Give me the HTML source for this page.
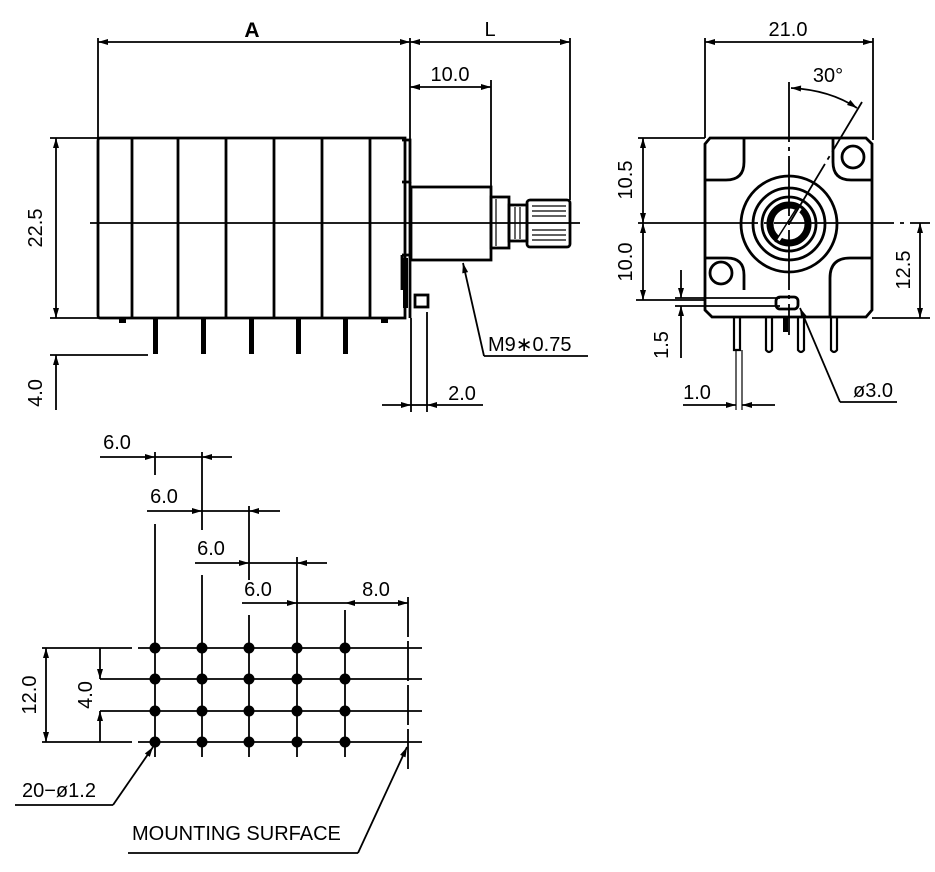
<!DOCTYPE html>
<html><head><meta charset="utf-8"><style>
html,body{margin:0;padding:0;background:#fff;}
svg{display:block;}
text{font-family:"Liberation Sans",sans-serif;font-size:20px;fill:#000;}
</style></head><body>
<svg width="935" height="872" viewBox="0 0 935 872" xmlns="http://www.w3.org/2000/svg">
<defs>
<marker id="ar" viewBox="0 0 10 6" refX="10" refY="3" markerWidth="11" markerHeight="6" orient="auto-start-reverse" markerUnits="userSpaceOnUse"><path d="M0,0 L10,3 L0,6 z" fill="#000"/></marker>
</defs>
<g stroke="#000" fill="none" stroke-width="1.8">
<!-- LEFT VIEW -->
<line x1="98" y1="38" x2="98" y2="138"/>
<line x1="410" y1="38" x2="410" y2="186"/>
<line x1="570" y1="38" x2="570" y2="200"/>
<line x1="98" y1="42" x2="410" y2="42" marker-start="url(#ar)" marker-end="url(#ar)"/>
<line x1="410" y1="42" x2="570" y2="42" marker-start="url(#ar)" marker-end="url(#ar)"/>
<line x1="491" y1="80" x2="491" y2="190"/>
<line x1="410" y1="87" x2="491" y2="87" marker-start="url(#ar)" marker-end="url(#ar)"/>
<g stroke-width="2.8">
<path d="M100,138 L405,138 L405,318 L100,318 Q98,318 98,315 L98,141 Q98,138 100,138 Z"/>
<line x1="132" y1="138" x2="132" y2="318"/>
<line x1="178" y1="138" x2="178" y2="318"/>
<line x1="226" y1="138" x2="226" y2="318"/>
<line x1="274" y1="138" x2="274" y2="318"/>
<line x1="322" y1="138" x2="322" y2="318"/>
<line x1="370" y1="138" x2="370" y2="318"/>
<path d="M402,140 L410,140 L410,182 L402,182"/>
<line x1="410" y1="182" x2="410" y2="318"/>
<path d="M402,255 L410,255 M402,255 L402,290"/>
<rect x="411" y="187" width="80" height="73"/>
<rect x="491" y="197" width="18" height="51"/>
<rect x="509" y="205" width="18" height="36"/>
<rect x="527" y="200" width="43" height="47" rx="3"/>
<rect x="415" y="295" width="13" height="12"/>
</g>
<g stroke-width="1.2">
<line x1="532" y1="206" x2="566" y2="206"/><line x1="532" y1="211" x2="566" y2="211"/><line x1="532" y1="216" x2="566" y2="216"/>
<line x1="532" y1="230" x2="566" y2="230"/><line x1="532" y1="235" x2="566" y2="235"/><line x1="532" y1="240" x2="566" y2="240"/>
<line x1="496" y1="199" x2="496" y2="246"/><line x1="515" y1="207" x2="515" y2="239"/><line x1="520" y1="207" x2="520" y2="239"/>
</g>
<rect x="403" y="258" width="5" height="50" fill="#000" stroke="none"/>
<line x1="90" y1="223" x2="580" y2="223"/>
<g fill="#000" stroke="none">
<rect x="153" y="318" width="5" height="36"/>
<rect x="201" y="318" width="5" height="36"/>
<rect x="249" y="318" width="5" height="36"/>
<rect x="296" y="318" width="5" height="36"/>
<rect x="343" y="318" width="5" height="36"/>
<rect x="119" y="318" width="7" height="5"/>
<rect x="381" y="318" width="7" height="5"/>
</g>
<line x1="50" y1="138" x2="98" y2="138"/>
<line x1="50" y1="318" x2="98" y2="318"/>
<line x1="56" y1="138" x2="56" y2="318" marker-start="url(#ar)" marker-end="url(#ar)"/>
<line x1="50" y1="355" x2="148" y2="355"/>
<line x1="56" y1="410" x2="56" y2="355" marker-end="url(#ar)"/>
<line x1="411" y1="318" x2="411" y2="412"/>
<line x1="427" y1="312" x2="427" y2="412"/>
<line x1="382" y1="405" x2="411" y2="405" marker-end="url(#ar)"/>
<line x1="483" y1="405" x2="427" y2="405" marker-end="url(#ar)"/>
<line x1="411" y1="405" x2="427" y2="405"/>
<line x1="484" y1="356" x2="463" y2="263" marker-end="url(#ar)"/>
<line x1="484" y1="356" x2="588" y2="356"/>

<!-- RIGHT VIEW -->
<line x1="705" y1="38" x2="705" y2="138"/>
<line x1="873" y1="38" x2="873" y2="140"/>
<line x1="705" y1="42" x2="873" y2="42" marker-start="url(#ar)" marker-end="url(#ar)"/>
<g stroke-width="2.8">
<path d="M710,138 L866,138 L872,144 L872,310 L866,317 L712,317 L705,310 L705,144 Z"/>
<path d="M744,139 L744,162 Q744,180 726,180 L706,180"/>
<path d="M833,139 L833,162 Q833,180 851,180 L871,180"/>
<path d="M706,258 L727,258 Q744,258 744,275 L744,290"/>
<path d="M871,258 L850,258 Q830,258 830,278 L830,317"/>
<circle cx="853" cy="157" r="11"/>
<circle cx="721" cy="273" r="11"/>
<circle cx="789" cy="224" r="48"/>
<circle cx="789" cy="224" r="36"/>
<circle cx="789" cy="224" r="27"/>
<circle cx="789" cy="224" r="19" stroke-width="7"/>
<rect x="776" y="297" width="22" height="12" rx="4"/>
</g>
<line x1="778" y1="240" x2="800" y2="208" stroke="#fff" stroke-width="4"/>
<line x1="775" y1="242" x2="798" y2="206" stroke-width="1.5"/>
<line x1="789" y1="82" x2="789" y2="335" stroke-dasharray="60 5 4 5"/>
<line x1="638" y1="223" x2="930" y2="223" stroke-dasharray="120 6 4 6"/>
<line x1="789" y1="224" x2="862" y2="102" stroke-dasharray="70 5 4 5"/>
<path d="M791,88 Q830,90 857,108" marker-start="url(#ar)" marker-end="url(#ar)"/>
<line x1="638" y1="138" x2="705" y2="138"/>
<line x1="643" y1="138" x2="643" y2="223" marker-start="url(#ar)" marker-end="url(#ar)"/>
<line x1="643" y1="223" x2="643" y2="300" marker-start="url(#ar)" marker-end="url(#ar)"/>
<line x1="636" y1="300" x2="705" y2="300"/>
<line x1="872" y1="318" x2="930" y2="318"/>
<line x1="920" y1="223" x2="920" y2="318" marker-start="url(#ar)" marker-end="url(#ar)"/>
<line x1="675" y1="298" x2="780" y2="298"/>
<line x1="675" y1="306" x2="780" y2="306"/>
<line x1="681" y1="270" x2="681" y2="298" marker-end="url(#ar)"/>
<line x1="681" y1="358" x2="681" y2="306" marker-end="url(#ar)"/>
<g stroke-width="2.2">
<path d="M734,318 L734,350 L740,350 L740,318"/>
<path d="M766,318 L766,350 Q769,354 772,350 L772,318"/>
<path d="M798,318 L798,350 Q801,354 804,350 L804,318"/>
<path d="M831,318 L831,350 Q834,354 837,350 L837,318"/>
</g>
<rect x="783" y="318" width="5" height="14" fill="#000" stroke="none"/>
<line x1="736" y1="350" x2="736" y2="410" stroke-width="1.2"/>
<line x1="742" y1="350" x2="742" y2="410" stroke-width="1.2"/>
<line x1="683" y1="405" x2="736" y2="405" marker-end="url(#ar)"/>
<line x1="775" y1="405" x2="742" y2="405" marker-end="url(#ar)"/>
<line x1="840" y1="402" x2="800" y2="308" marker-end="url(#ar)"/>
<line x1="840" y1="402" x2="897" y2="402"/>

<!-- BOTTOM FOOTPRINT -->
<line x1="100" y1="457" x2="155" y2="457" marker-end="url(#ar)"/>
<line x1="232" y1="457" x2="202" y2="457" marker-end="url(#ar)"/>
<line x1="155" y1="457" x2="202" y2="457"/>
<line x1="155" y1="452" x2="155" y2="475"/>
<line x1="202" y1="452" x2="202" y2="530"/>
<line x1="147" y1="511" x2="202" y2="511" marker-end="url(#ar)"/>
<line x1="280" y1="511" x2="249" y2="511" marker-end="url(#ar)"/>
<line x1="202" y1="511" x2="249" y2="511"/>
<line x1="249" y1="506" x2="249" y2="580"/>
<line x1="195" y1="563" x2="249" y2="563" marker-end="url(#ar)"/>
<line x1="327" y1="563" x2="297" y2="563" marker-end="url(#ar)"/>
<line x1="249" y1="563" x2="297" y2="563"/>
<line x1="297" y1="557" x2="297" y2="630"/>
<line x1="242" y1="603" x2="297" y2="603" marker-end="url(#ar)"/>
<line x1="297" y1="603" x2="345" y2="603"/>
<line x1="345" y1="603" x2="408" y2="603" marker-start="url(#ar)" marker-end="url(#ar)"/>
<line x1="408" y1="597" x2="408" y2="770" stroke-dasharray="40 4"/>
<line x1="155" y1="524" x2="155" y2="757"/>
<line x1="202" y1="575" x2="202" y2="757"/>
<line x1="249" y1="615" x2="249" y2="757"/>
<line x1="297" y1="630" x2="297" y2="757"/>
<line x1="345" y1="610" x2="345" y2="757"/>
<line x1="138" y1="648" x2="422" y2="648"/>
<line x1="100" y1="679" x2="422" y2="679"/>
<line x1="100" y1="711" x2="422" y2="711"/>
<line x1="138" y1="742" x2="422" y2="742"/>
<line x1="42" y1="648" x2="132" y2="648"/>
<line x1="42" y1="742" x2="132" y2="742"/>
<line x1="46" y1="648" x2="46" y2="742" marker-start="url(#ar)" marker-end="url(#ar)"/>
<line x1="100" y1="648" x2="100" y2="679" marker-end="url(#ar)"/>
<line x1="100" y1="742" x2="100" y2="711" marker-end="url(#ar)"/>
<line x1="113" y1="805" x2="153" y2="747" marker-end="url(#ar)"/>
<line x1="15" y1="805" x2="113" y2="805"/>
<line x1="358" y1="853" x2="407" y2="747" marker-end="url(#ar)"/>
<line x1="128" y1="853" x2="358" y2="853"/>
</g>
<g fill="#000">
<circle cx="155" cy="648" r="5.5"/><circle cx="202" cy="648" r="5.5"/><circle cx="249" cy="648" r="5.5"/><circle cx="297" cy="648" r="5.5"/><circle cx="345" cy="648" r="5.5"/>
<circle cx="155" cy="679" r="5.5"/><circle cx="202" cy="679" r="5.5"/><circle cx="249" cy="679" r="5.5"/><circle cx="297" cy="679" r="5.5"/><circle cx="345" cy="679" r="5.5"/>
<circle cx="155" cy="711" r="5.5"/><circle cx="202" cy="711" r="5.5"/><circle cx="249" cy="711" r="5.5"/><circle cx="297" cy="711" r="5.5"/><circle cx="345" cy="711" r="5.5"/>
<circle cx="155" cy="742" r="5.5"/><circle cx="202" cy="742" r="5.5"/><circle cx="249" cy="742" r="5.5"/><circle cx="297" cy="742" r="5.5"/><circle cx="345" cy="742" r="5.5"/>
</g>
<text x="252" y="37" text-anchor="middle" font-weight="bold" style="font-size:21px">A</text>
<text x="490" y="36" text-anchor="middle">L</text>
<text x="450" y="81" text-anchor="middle">10.0</text>
<text x="42" y="228" text-anchor="middle" transform="rotate(-90 42 228)">22.5</text>
<text x="42" y="393" text-anchor="middle" transform="rotate(-90 42 393)">4.0</text>
<text x="462" y="400" text-anchor="middle">2.0</text>
<text x="488" y="351">M9∗0.75</text>
<text x="788" y="36" text-anchor="middle">21.0</text>
<text x="828" y="82" text-anchor="middle">30°</text>
<text x="632" y="180" text-anchor="middle" transform="rotate(-90 632 180)">10.5</text>
<text x="632" y="262" text-anchor="middle" transform="rotate(-90 632 262)">10.0</text>
<text x="910" y="270" text-anchor="middle" transform="rotate(-90 910 270)">12.5</text>
<text x="668" y="345" text-anchor="middle" transform="rotate(-90 668 345)">1.5</text>
<text x="697" y="399" text-anchor="middle">1.0</text>
<text x="873" y="397" text-anchor="middle">ø3.0</text>
<text x="117" y="449" text-anchor="middle">6.0</text>
<text x="164" y="503" text-anchor="middle">6.0</text>
<text x="211" y="555" text-anchor="middle">6.0</text>
<text x="258" y="596" text-anchor="middle">6.0</text>
<text x="376" y="596" text-anchor="middle">8.0</text>
<text x="36" y="695" text-anchor="middle" transform="rotate(-90 36 695)">12.0</text>
<text x="92" y="695" text-anchor="middle" transform="rotate(-90 92 695)">4.0</text>
<text x="22" y="797">20−ø1.2</text>
<text x="132" y="840">MOUNTING SURFACE</text>
</svg>
</body></html>
